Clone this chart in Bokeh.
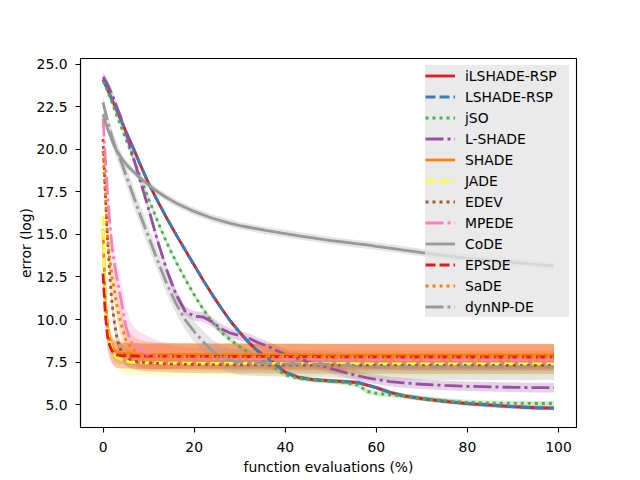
import numpy as np
from bokeh.plotting import figure
from bokeh.models import Range1d, FixedTicker, PrintfTickFormatter
from bokeh.embed import file_html
from bokeh.resources import INLINE

# ---- data ----
X = [0, 0.5, 1, 1.5, 2, 2.5, 3, 3.5, 4, 5, 6, 7, 8,
     10, 12, 14, 16, 18, 20, 22, 24, 26, 28, 30, 32, 34, 36, 38, 40,
     43, 46, 50, 53, 56, 58, 60, 63, 66, 70, 75, 80, 85, 90, 95, 99]

ilshade_rsp = [24.1, 23.8, 23.5, 23.2, 22.9, 22.6, 22.3, 22.0, 21.65, 21.05, 20.45, 19.85, 19.2,
               18.0, 16.95, 15.95, 15.0, 14.1, 13.2, 12.3, 11.45, 10.65, 9.9, 9.25, 8.65, 8.15, 7.75, 7.35, 6.9,
               6.6, 6.47, 6.4, 6.35, 6.3, 6.15, 6.0, 5.72, 5.52, 5.36, 5.2, 5.06, 4.97, 4.88, 4.82, 4.8]
lshade_rsp = [24.1, 23.8, 23.5, 23.2, 22.9, 22.6, 22.3, 22.0, 21.65, 21.05, 20.45, 19.85, 19.2,
              18.0, 16.95, 15.95, 15.0, 14.1, 13.2, 12.3, 11.45, 10.65, 9.9, 9.25, 8.65, 8.15, 7.75, 7.35, 6.9,
              6.6, 6.47, 6.4, 6.35, 6.3, 6.15, 6.0, 5.72, 5.52, 5.36, 5.2, 5.06, 4.97, 4.88, 4.82, 4.79]
jso = [24.0, 23.7, 23.4, 23.05, 22.7, 22.35, 22.0, 21.65, 21.3, 20.6, 19.9, 19.2, 18.5,
       17.1, 15.75, 14.5, 13.4, 12.4, 11.45, 10.6, 9.85, 9.25, 8.8, 8.4, 8.05, 7.7, 7.42, 7.1, 6.75,
       6.55, 6.45, 6.38, 6.3, 6.15, 5.78, 5.66, 5.58, 5.5, 5.36, 5.24, 5.14, 5.1, 5.08, 5.07, 5.07]
l_shade = [24.25, 24.05, 23.8, 23.5, 23.2, 22.85, 22.5, 22.15, 21.8, 21.0, 20.1, 19.2, 18.3,
           16.5, 14.6, 12.9, 11.5, 10.5, 10.2, 10.15, 9.85, 9.45, 9.2, 9.05, 8.9, 8.65, 8.45, 8.2, 7.95,
           7.7, 7.45, 7.12, 6.9, 6.7, 6.58, 6.48, 6.36, 6.28, 6.2, 6.13, 6.08, 6.05, 6.02, 6.0, 6.0]
shade = [15.3, 11.2, 9.6, 8.8, 8.4, 8.2, 8.1, 8.05, 8.02, 8.0, 7.98, 7.97, 7.96,
         7.95, 7.95, 7.95, 7.95, 7.95, 7.95, 7.95, 7.94, 7.94, 7.94, 7.94, 7.94, 7.94, 7.94, 7.94, 7.94,
         7.94, 7.94, 7.93, 7.93, 7.93, 7.93, 7.93, 7.93, 7.93, 7.93, 7.93, 7.93, 7.93, 7.93, 7.93, 7.93]
jade = [16.1, 10.6, 9.36, 8.7, 8.2, 7.95, 7.8, 7.72, 7.67, 7.57, 7.5, 7.48, 7.46,
        7.45, 7.45, 7.44, 7.44, 7.44, 7.43, 7.43, 7.43, 7.43, 7.42, 7.42, 7.42, 7.42, 7.42, 7.42, 7.41,
        7.41, 7.41, 7.41, 7.41, 7.4, 7.4, 7.4, 7.4, 7.4, 7.4, 7.4, 7.4, 7.4, 7.4, 7.4, 7.4]
edev = [20.6, 17.4, 14.6, 12.5, 10.9, 9.8, 9.0, 8.45, 8.15, 7.8, 7.65, 7.55, 7.5,
        7.45, 7.42, 7.4, 7.38, 7.37, 7.36, 7.35, 7.35, 7.35, 7.34, 7.34, 7.34, 7.34, 7.33, 7.33, 7.33,
        7.33, 7.32, 7.32, 7.32, 7.31, 7.31, 7.31, 7.31, 7.3, 7.3, 7.3, 7.3, 7.3, 7.3, 7.3, 7.3]
mpede = [21.8, 19.5, 17.3, 15.6, 14.2, 13.3, 12.5, 11.8, 11.1, 9.6, 8.75, 8.4, 8.2,
         8.0, 7.9, 7.85, 7.8, 7.77, 7.75, 7.74, 7.73, 7.72, 7.72, 7.71, 7.7, 7.7, 7.7, 7.69, 7.69,
         7.68, 7.68, 7.67, 7.67, 7.66, 7.66, 7.66, 7.65, 7.65, 7.65, 7.64, 7.64, 7.64, 7.64, 7.64, 7.64]
code = [22.05, 21.6, 21.2, 20.85, 20.5, 20.2, 19.9, 19.7, 19.5, 19.15, 18.85, 18.6, 18.35,
        17.9, 17.5, 17.15, 16.85, 16.6, 16.35, 16.15, 15.95, 15.8, 15.65, 15.52, 15.42, 15.32, 15.22, 15.13, 15.05,
        14.92, 14.8, 14.64, 14.54, 14.44, 14.38, 14.3, 14.2, 14.08, 13.93, 13.76, 13.6, 13.47, 13.35, 13.24, 13.15]
epsde = [12.7, 10.3, 9.0, 8.45, 8.15, 8.0, 7.92, 7.9, 7.88, 7.87, 7.86, 7.86, 7.85,
         7.85, 7.85, 7.85, 7.84, 7.84, 7.84, 7.84, 7.83, 7.83, 7.83, 7.83, 7.83, 7.83, 7.82, 7.82, 7.82,
         7.82, 7.82, 7.81, 7.81, 7.81, 7.81, 7.81, 7.81, 7.8, 7.8, 7.8, 7.8, 7.8, 7.8, 7.8, 7.8]
sade = [19.9, 17.3, 14.8, 13.5, 12.5, 11.7, 10.9, 10.25, 9.7, 8.8, 8.4, 8.15, 8.0,
        7.9, 7.85, 7.83, 7.82, 7.81, 7.8, 7.8, 7.8, 7.79, 7.79, 7.79, 7.79, 7.78, 7.78, 7.78, 7.78,
        7.78, 7.77, 7.77, 7.77, 7.77, 7.77, 7.77, 7.76, 7.76, 7.76, 7.76, 7.76, 7.76, 7.76, 7.76, 7.76]
dynnp_de = [22.75, 22.2, 21.65, 21.15, 20.7, 20.3, 19.95, 19.6, 19.25, 18.5, 17.75, 17.0, 16.25,
            14.85, 13.45, 12.1, 10.95, 10.0, 9.3, 8.7, 8.15, 7.8, 7.6, 7.5, 7.46, 7.44, 7.42, 7.41, 7.4,
            7.39, 7.38, 7.36, 7.32, 7.25, 7.22, 7.2, 7.2, 7.2, 7.2, 7.2, 7.2, 7.2, 7.2, 7.2, 7.2]

# spread (std) of each run set
std_ilshade_rsp = 0.13
std_lshade_rsp = 0.1
std_jso = 0.15
std_l_shade = 0.28
std_shade = 0.65
std_jade = 0.72
std_edev = 0.5
std_mpede = [0.3, 0.4, 0.5, 0.6, 0.7, 0.8, 0.9, 1.0, 1.1, 1.15, 1.1, 1.1, 1.05,
             1.0, 0.85, 0.75, 0.65, 0.6, 0.58, 0.57, 0.56, 0.56, 0.55, 0.55, 0.55, 0.55, 0.55, 0.55, 0.55,
             0.55, 0.55, 0.55, 0.55, 0.55, 0.55, 0.55, 0.55, 0.55, 0.55, 0.55, 0.55, 0.55, 0.55, 0.55, 0.55]
std_code = 0.22
std_epsde = 0.75
std_sade = 0.8
std_dynnp_de = [0.3, 0.35, 0.4, 0.45, 0.5, 0.5, 0.5, 0.5, 0.5, 0.55, 0.6, 0.6, 0.6,
                0.6, 0.6, 0.6, 0.6, 0.6, 0.6, 0.62, 0.65, 0.7, 0.72, 0.75, 0.75, 0.75, 0.75, 0.75, 0.75,
                0.75, 0.75, 0.75, 0.75, 0.75, 0.75, 0.75, 0.75, 0.75, 0.75, 0.75, 0.75, 0.75, 0.75, 0.75, 0.75]

names = ["iLSHADE-RSP", "LSHADE-RSP", "jSO", "L-SHADE", "SHADE", "JADE",
         "EDEV", "MPEDE", "CoDE", "EPSDE", "SaDE", "dynNP-DE"]
means = [ilshade_rsp, lshade_rsp, jso, l_shade, shade, jade, edev, mpede, code, epsde, sade, dynnp_de]
stds = [std_ilshade_rsp, std_lshade_rsp, std_jso, std_l_shade, std_shade, std_jade,
        std_edev, std_mpede, std_code, std_epsde, std_sade, std_dynnp_de]
colors = ["#e41a1c", "#377eb8", "#4daf4a", "#984ea3", "#ff7f00", "#ffff33",
          "#a65628", "#f781bf", "#999999", "#e41a1c", "#ff7f00", "#999999"]
dashes = ["solid", "10 4", "3 4", "18 4 3 4", "solid", "10 4",
          "3 4", "18 4 3 4", "solid", "10 4", "3 4", "18 4 3 4"]

x_ticks = [0, 20, 40, 60, 80, 100]
y_ticks = [5.0, 7.5, 10.0, 12.5, 15.0, 17.5, 20.0, 22.5, 25.0]

for m in means:
    assert len(m) == len(X), len(m)

FONT = "DejaVu Sans"
FS = "13.9px"

p = figure(width=640, height=480, output_backend="svg", toolbar_location=None,
           x_range=Range1d(-4.95, 103.95), y_range=Range1d(3.66, 25.33),
           min_border_left=80, min_border_right=64, min_border_top=58, min_border_bottom=53)
p.background_fill_color = "white"
p.border_fill_color = "white"
p.outline_line_color = "black"
p.outline_line_width = 1.1
p.outline_line_alpha = 1.0
p.xgrid.grid_line_color = None
p.ygrid.grid_line_color = None

xa = np.array(X, dtype=float)
# bands first (below all lines)
for m, s, c in zip(means, stds, colors):
    mm = np.array(m, dtype=float)
    ss = np.array(s, dtype=float) * np.ones_like(mm)
    p.varea(x=xa, y1=mm - ss, y2=mm + ss, fill_color=c, fill_alpha=0.25)

for n, m, c, d in zip(names, means, colors, dashes):
    p.line(xa, np.array(m, dtype=float), line_color=c, line_width=2.8, line_dash=d, legend_label=n)

p.xaxis.ticker = FixedTicker(ticks=x_ticks)
p.yaxis.ticker = FixedTicker(ticks=y_ticks)
p.yaxis.formatter = PrintfTickFormatter(format="%.1f")
for ax in (p.xaxis, p.yaxis):
    ax.major_tick_in = 0
    ax.major_tick_out = 5
    ax.major_tick_line_color = "black"
    ax.major_tick_line_width = 1.1
    ax.minor_tick_line_color = None
    ax.axis_line_color = "black"
    ax.axis_line_width = 1.1
    ax.major_label_text_font = FONT
    ax.major_label_text_font_size = FS
    ax.major_label_text_color = "black"
    ax.axis_label_text_font = FONT
    ax.axis_label_text_font_size = FS
    ax.axis_label_text_font_style = "normal"
    ax.axis_label_text_color = "black"
p.xaxis.axis_label = "function evaluations (%)"
p.yaxis.axis_label = "error (log)"
p.xaxis.major_label_standoff = 9
p.xaxis.axis_label_standoff = 4
p.yaxis.major_label_standoff = 8
p.yaxis.axis_label_standoff = 0

lg = p.legend[0]
lg.location = "top_right"
lg.margin = 7
lg.padding = 5
lg.spacing = 0
lg.label_height = 21
lg.glyph_height = 21
lg.glyph_width = 30
lg.label_standoff = 10
lg.label_width = 104
lg.label_text_font = FONT
lg.label_text_font_size = FS
lg.label_text_color = "black"
lg.background_fill_color = "#e5e5e5"
lg.background_fill_alpha = 0.8
lg.border_line_color = None

open("out.html", "w").write(file_html(p, INLINE))
